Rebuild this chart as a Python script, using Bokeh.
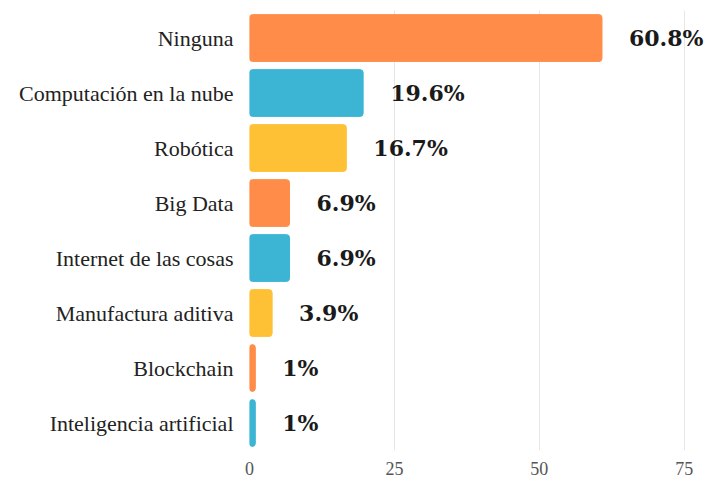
from bokeh.plotting import figure
from bokeh.models import ColumnDataSource, FactorRange, Range1d, FixedTicker
from bokeh.core.properties import value
from bokeh.embed import file_html
from bokeh.resources import INLINE

categories = ["Ninguna", "Computación en la nube", "Robótica", "Big Data",
              "Internet de las cosas", "Manufactura aditiva", "Blockchain",
              "Inteligencia artificial"]
values = [60.8, 19.6, 16.7, 6.9, 6.9, 3.9, 1.0, 1.0]
labels = ["60.8%", "19.6%", "16.7%", "6.9%", "6.9%", "3.9%", "1%", "1%"]
colors = ["#FF8C48", "#3CB5D5", "#FEC135", "#FF8C48", "#3CB5D5", "#FEC135", "#FF8C48", "#3CB5D5"]
ticks = [0, 25, 50, 75]

src = ColumnDataSource(dict(cat=categories, val=values, lab=labels, col=colors))

p = figure(y_range=FactorRange(*reversed(categories), range_padding=0),
           x_range=Range1d(0, 79),
           frame_width=458, frame_height=440,
           min_border_left=249, min_border_right=0, min_border_top=10, min_border_bottom=32,
           output_backend="svg", toolbar_location=None)

p.hbar(y="cat", right="val", left=0, height=0.85, color="col", source=src,
       border_radius=3)
p.text(x="val", y="cat", text="lab", source=src, x_offset=27,
       text_font=value("DejaVu Serif"), text_font_style="bold",
       text_font_size="22px", text_baseline="middle", text_color="#1a1a1a")

p.outline_line_color = None
p.ygrid.grid_line_color = None
p.xgrid.grid_line_color = "#E6E6E6"
p.xaxis.ticker = FixedTicker(ticks=ticks)
p.xaxis.axis_line_color = None
p.xaxis.major_tick_line_color = None
p.xaxis.major_tick_out = 0
p.xaxis.minor_tick_line_color = None
p.xaxis.major_label_text_font = "Liberation Serif"
p.xaxis.major_label_text_font_size = "18px"
p.xaxis.major_label_text_color = "#555555"
p.xaxis.major_label_standoff = 11
p.yaxis.axis_line_color = None
p.yaxis.major_tick_line_color = None
p.yaxis.major_tick_out = 0
p.yaxis.major_label_text_font = "Liberation Serif"
p.yaxis.major_label_text_font_size = "22px"
p.yaxis.major_label_text_color = "#222222"
p.yaxis.major_label_standoff = 16

open("out.html", "w").write(file_html(p, INLINE))
